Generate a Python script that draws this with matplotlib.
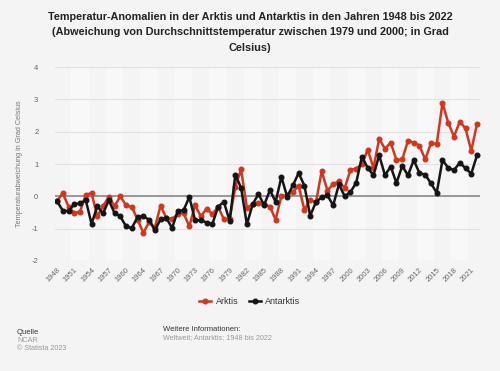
import matplotlib
matplotlib.use("Agg")
import matplotlib.pyplot as plt
import numpy as np

years = [str(y) for y in list(range(1948, 1962)) + list(range(1963, 2023))]

arktis = [-0.15, 0.10, -0.32, -0.52, -0.47, 0.05, 0.10, -0.62, -0.30, -0.02,
          -0.30, 0.00, -0.28, -0.33, -0.72, -1.13, -0.80, -0.97, -0.29, -0.67,
          -0.70, -0.55, -0.52, -0.93, -0.27, -0.62, -0.38, -0.55, -0.32, -0.71,
          -0.71, 0.30, 0.83, -0.35, -0.25, -0.21, -0.24, -0.32, -0.72, 0.02,
          0.03, 0.14, 0.32, -0.42, -0.10, -0.19, 0.78, 0.18, 0.38, 0.47,
          0.25, 0.82, 0.86, 1.00, 1.44, 0.88, 1.78, 1.47, 1.66, 1.12,
          1.14, 1.72, 1.66, 1.57, 1.14, 1.65, 1.62, 2.89, 2.27, 1.85,
          2.31, 2.10, 1.41, 2.24]

antarktis = [-0.15, -0.44, -0.46, -0.24, -0.22, -0.12, -0.85, -0.31, -0.53, -0.12,
             -0.52, -0.62, -0.93, -0.98, -0.64, -0.62, -0.72, -1.05, -0.71, -0.67,
             -0.98, -0.45, -0.43, -0.02, -0.74, -0.74, -0.81, -0.86, -0.32, -0.17,
             -0.76, 0.67, 0.26, -0.87, -0.25, 0.07, -0.27, 0.19, -0.17, 0.60,
             -0.01, 0.34, 0.72, 0.33, -0.60, -0.18, -0.03, 0.03, -0.28, 0.37,
             0.00, 0.13, 0.42, 1.23, 0.88, 0.65, 1.27, 0.65, 0.92, 0.41,
             0.94, 0.65, 1.12, 0.72, 0.67, 0.40, 0.11, 1.12, 0.88, 0.81,
             1.04, 0.87, 0.70, 1.27]

yticks = [-2, -1, 0, 1, 2, 3, 4]

plt.rcParams['font.family'] = ['Liberation Sans', 'DejaVu Sans']
bg = '#f4f4f4'
fig = plt.figure(figsize=(5.0, 3.71), dpi=100, facecolor=bg)
ax = fig.add_axes([0.11, 0.2965, 0.85, 0.5229])
ax.set_facecolor(bg)

x = np.arange(len(years))
# alternating bands
for s in range(0, len(years), 6):
    ax.axvspan(s - 0.5 + 3, s - 0.5 + 6, color='white', alpha=0.45, lw=0, zorder=0)

for t in yticks:
    ax.axhline(t, color='#e2e2e2', lw=0.8, zorder=1)
ax.axhline(0, color='#8a8a8a', lw=1.2, zorder=2)

red = '#d1361f'
blk = '#151515'
ax.plot(x, arktis, color=red, lw=1.8, marker='o', ms=3.3, zorder=3, label='Arktis')
ax.plot(x, antarktis, color=blk, lw=1.8, marker='o', ms=3.3, zorder=4, label='Antarktis')

ax.set_xlim(-0.35, len(years) - 1 + 0.52)
ax.set_ylim(-2, 4)
ax.set_yticks(yticks)
ax.set_yticklabels([str(t) for t in yticks], fontsize=5.5, color='#666666')
ax.set_xticks(x[::3])
ax.set_xticklabels(years[::3], rotation=45, ha='right', rotation_mode='anchor',
                   fontsize=5.5, color='#666666')
ax.tick_params(axis='both', length=0, pad=4)
ax.tick_params(axis='y', pad=12)
for sp in ax.spines.values():
    sp.set_visible(False)

ax.set_ylabel('Temperaturabweichung in Grad Celsius', fontsize=5.2, color='#777777', labelpad=6)

fig.text(0.5, 0.968, 'Temperatur-Anomalien in der Arktis und Antarktis in den Jahren 1948 bis 2022\n'
         '(Abweichung von Durchschnittstemperatur zwischen 1979 und 2000; in Grad\nCelsius)',
         ha='center', va='top', fontsize=7.8, fontweight='bold', color='#222222', linespacing=1.7)

leg = fig.legend(loc='center', bbox_to_anchor=(0.5, 0.188), ncol=2, frameon=False,
                 fontsize=6.5, handlelength=1.3, columnspacing=1.2, handletextpad=0.5)
for t in leg.get_texts():
    t.set_color('#333333')

fig.text(0.034, 0.105, 'Quelle', fontsize=5.5, color='#333333', va='center')
fig.text(0.034, 0.082, 'NCAR', fontsize=5.2, color='#999999', va='center')
fig.text(0.034, 0.06, '\u00a9 Statista 2023', fontsize=5.2, color='#999999', va='center')
fig.text(0.326, 0.113, 'Weitere Informationen:', fontsize=5.5, color='#333333', va='center')
fig.text(0.326, 0.091, 'Weltweit; Antarktis; 1948 bis 2022', fontsize=5.2, color='#999999', va='center')

fig.savefig('out.png', dpi=100, facecolor=bg)
